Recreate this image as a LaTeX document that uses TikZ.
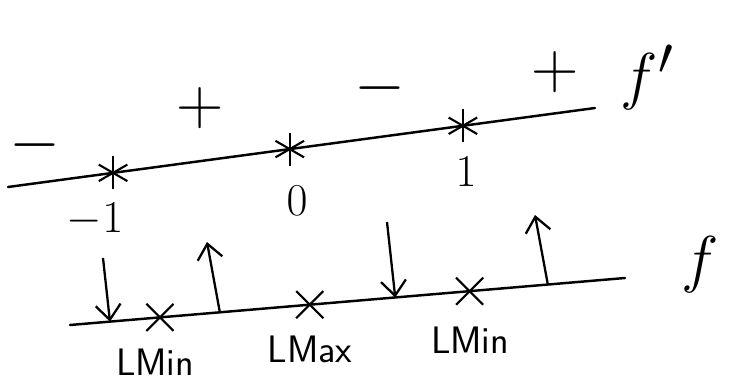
\documentclass[tikz,border=0pt]{standalone}
\usetikzlibrary{arrows.meta,shapes.misc}
\tikzset{
  axis/.style={line width=1.4pt, line cap=round},
  crit/.style={circle, minimum size=7mm, inner sep=0pt,
    path picture={
      \foreach \ang in {90,30,-30}
        \draw[line width=1.2pt] (path picture bounding box.center) ++(\ang:3.3mm) -- ++(\ang+180:6.6mm);}},
  extr/.style={cross out, draw, line width=1.2pt, minimum size=5mm, inner sep=0pt},
  signlbl/.style={inner sep=1pt, font=\Huge, scale=1.5},
  numlbl/.style={inner sep=1pt, font=\huge, scale=1.25},
  extlbl/.style={inner sep=1pt, font=\huge\sffamily, scale=1.05},
  fnlbl/.style={inner sep=1pt, font=\Huge, scale=1.45},
  flow/.style={-{Straight Barb[length=3mm,width=5mm]}, line width=1.3pt},
}
\begin{document}
\begin{tikzpicture}
\useasboundingbox (0,0) rectangle (14.92,7.7);

% ---------- sign line of f' ----------
\coordinate (dL) at (0.16,3.96);
\coordinate (dR) at (11.9,5.54);
\draw[axis] (dL) -- (dR)
  coordinate[pos=0.179] (c1) coordinate[pos=0.48] (c2) coordinate[pos=0.775] (c3);
\node[crit] (s1) at (c1) {};
\node[crit] (s2) at (c2) {};
\node[crit] (s3) at (c3) {};

\node[numlbl] (n1) at (1.9,3.3) {$-1$};
\node[numlbl] (n2) at (5.94,3.68) {$0$};
\node[numlbl] (n3) at (9.32,4.26) {$1$};

\node[signlbl] (g1) at (0.7,4.8) {$-$};
\node[signlbl] (g2) at (4.0,5.54) {$+$};
\node[signlbl] (g3) at (7.6,5.94) {$-$};
\node[signlbl] (g4) at (11.1,6.26) {$+$};

\node[fnlbl] (fp) at (12.95,6.15) {$f'$};

% ---------- line of f ----------
\coordinate (fL) at (1.4,1.2);
\coordinate (fR) at (12.5,2.14);
\draw[axis] (fL) -- (fR)
  coordinate[pos=0.072] (a1) coordinate[pos=0.162] (x1)
  coordinate[pos=0.27] (a2) coordinate[pos=0.432] (x2)
  coordinate[pos=0.586] (a3) coordinate[pos=0.72] (x3)
  coordinate[pos=0.861] (a4);
\node[extr] (m1) at (x1) {};
\node[extr] (m2) at (x2) {};
\node[extr] (m3) at (x3) {};

\node[extlbl] (l1) at (3.1,0.46) {LMin};
\node[extlbl] (l2) at (6.2,0.72) {LMax};
\node[extlbl] (l3) at (9.4,0.9) {LMin};

\node[fnlbl] (fn) at (14.0,2.4) {$f$};

% ---------- arrows ----------
\coordinate (t1) at (2.06,2.54);
\coordinate (h2) at (4.14,2.86);
\coordinate (t3) at (7.74,3.26);
\coordinate (h4) at (10.7,3.4);
\draw[flow] (t1) -- (a1);
\draw[flow] (a2) -- (h2);
\draw[flow] (t3) -- (a3);
\draw[flow] (a4) -- (h4);

\end{tikzpicture}
\end{document}
